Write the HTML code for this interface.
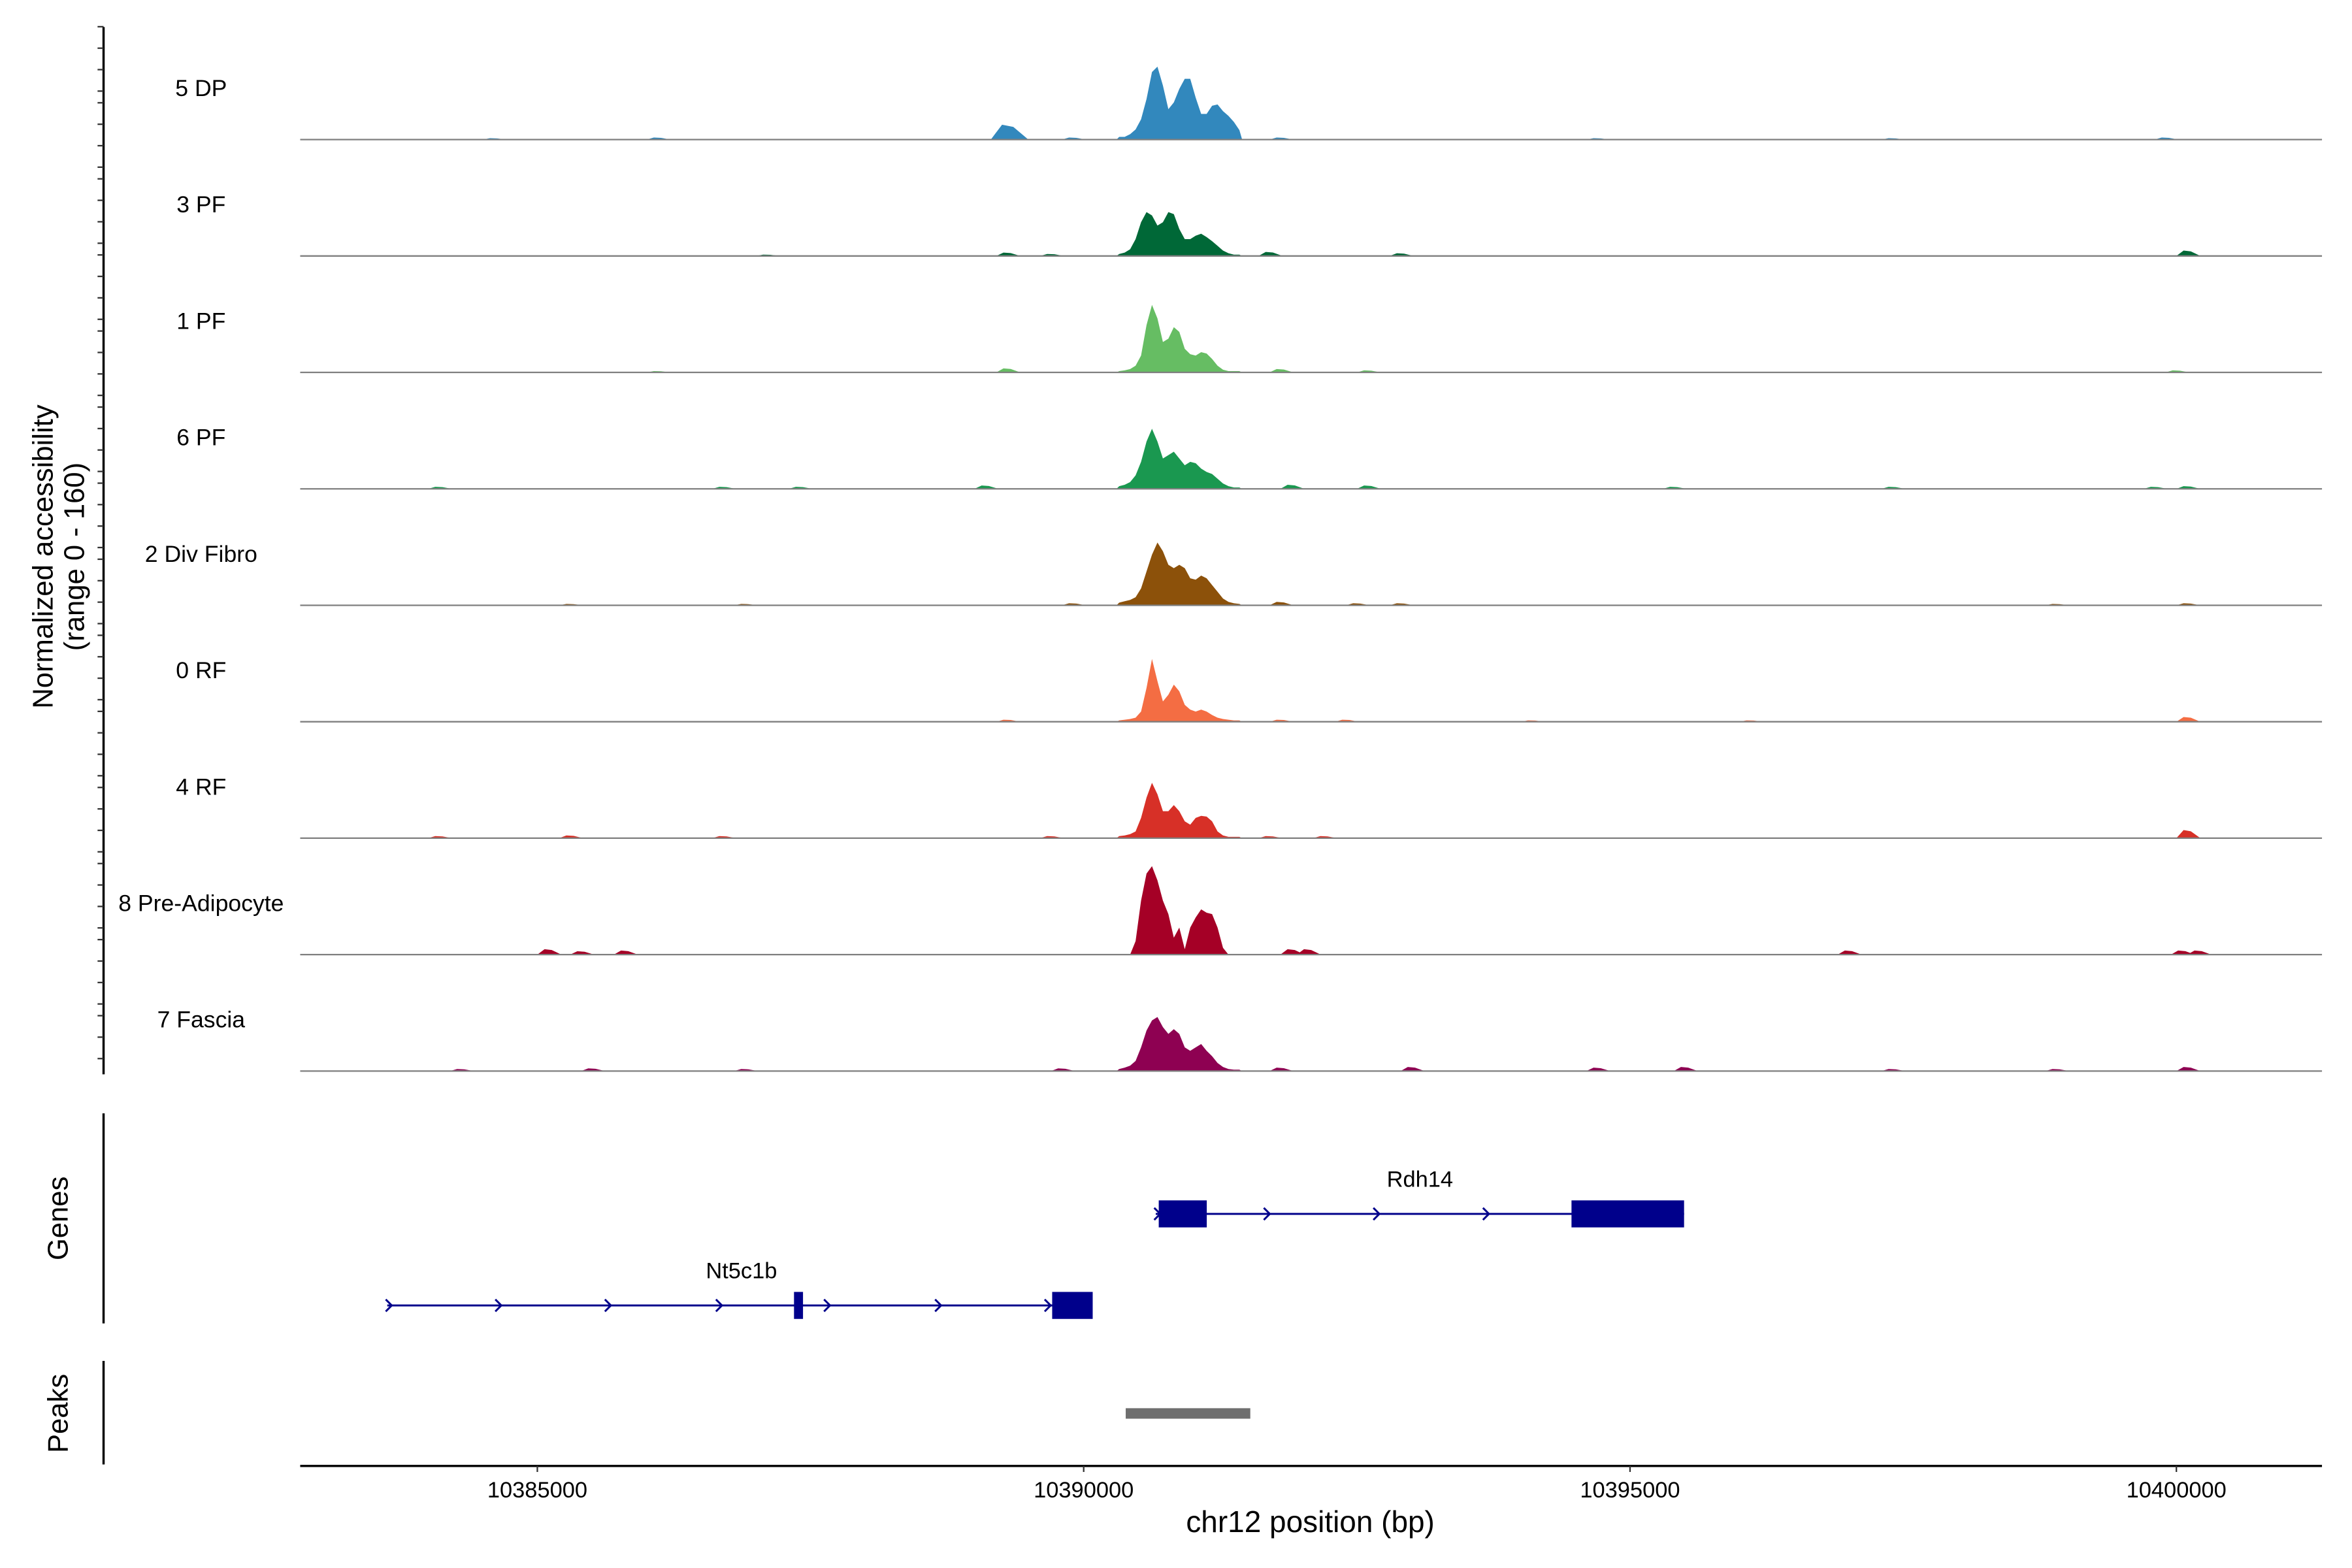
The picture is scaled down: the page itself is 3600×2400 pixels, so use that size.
<!DOCTYPE html>
<html><head><meta charset="utf-8"><style>
html,body{margin:0;padding:0;background:#fff}
svg{display:block}
text{font-family:"Liberation Sans",Arial,sans-serif;fill:#000}
</style></head><body>
<svg id="chart" width="3600" height="2400" viewBox="0 0 1567 1045" preserveAspectRatio="none" xmlns="http://www.w3.org/2000/svg">
<g id="yaxis"></g>
<g id="tracks"></g>
<text transform="translate(35,371) rotate(-90)" text-anchor="middle" font-size="19">Normalized accessibility</text>
<text transform="translate(56,371) rotate(-90)" text-anchor="middle" font-size="19">(range 0 - 160)</text>
<g id="genes"></g>
<line x1="69" y1="742" x2="69" y2="882" stroke="#000" stroke-width="1.5"/>
<text transform="translate(45,812) rotate(-90)" text-anchor="middle" font-size="19">Genes</text>
<line x1="69" y1="907" x2="69" y2="976" stroke="#000" stroke-width="1.5"/>
<text transform="translate(45,942) rotate(-90)" text-anchor="middle" font-size="19">Peaks</text>
<g id="peaks"></g>
<line x1="200" y1="977" x2="1547" y2="977" stroke="#000" stroke-width="1.5"/>
<g id="xaxis"></g>
<text x="873" y="1021" text-anchor="middle" font-size="20">chr12 position (bp)</text>
</svg>
<script>
const trackNames = ["5 DP","3 PF","1 PF","6 PF","2 Div Fibro","0 RF","4 RF","8 Pre-Adipocyte","7 Fascia"];
const trackColors = ["#3288bd","#006837","#66bd63","#1a9850","#8c510a","#f46d43","#d73027","#a50026","#8e0152"];
const binStart = 10390300;
const binSize = 50;
const peakDP5 = [4,4,8,15,30,60,100,108,80,45,55,75,90,90,62,38,38,50,52,42,35,26,14];
const peakPF3 = [3,5,10,25,50,65,60,45,50,65,62,40,25,25,30,33,28,22,15,8,4,2,2];
const peakPF1 = [2,3,5,10,25,70,100,80,45,50,67,60,35,27,25,30,28,20,10,4,2,2,2];
const peakPF6 = [4,6,10,20,40,70,89,70,45,50,55,45,35,40,38,30,25,22,15,8,4,2,2];
const peakDiv2 = [4,6,8,12,25,50,75,93,80,60,55,60,55,40,38,44,40,30,20,10,5,3,2];
const peakRF0 = [2,3,4,6,15,50,93,60,30,40,55,45,25,18,15,18,15,10,6,4,3,2,2];
const peakRF4 = [3,4,6,10,30,60,82,65,40,40,49,40,25,20,30,33,32,25,10,4,2,2,2];
const peakPre8 = [0,0,0,20,80,120,131,110,80,60,25,40,8,40,55,67,62,60,40,10,0,0,0];
const peakFascia7 = [3,5,8,15,35,60,75,80,65,55,62,55,35,30,35,40,30,22,12,6,3,2,2];
const peakValues = [peakDP5,peakPF3,peakPF1,peakPF6,peakDiv2,peakRF0,peakRF4,peakPre8,peakFascia7];
// background bumps: start positions (bp) and heights (units)
const bgPosDP5 = [10389150,10389800,10386000,10384500,10391700,10394600,10397300,10399800];
const bgValDP5 = [22,3,3,2,3,2,2,3];
const bgPosPF3 = [10389200,10389600,10391600,10392800,10400000,10387000];
const bgValPF3 = [5,3,6,4,8,2];
const bgPosPF1 = [10389200,10391700,10392500,10399900,10386000];
const bgValPF1 = [6,5,3,3,2];
const bgPosPF6 = [10384000,10386600,10387300,10389000,10391800,10392500,10395300,10397300,10399700,10400000];
const bgValPF6 = [3,3,3,5,6,5,3,3,3,4];
const bgPosDiv2 = [10385200,10386800,10389800,10391700,10392400,10392800,10398800,10400000];
const bgValDiv2 = [2,2,3,5,3,3,2,3];
const bgPosRF0 = [10389200,10391700,10392300,10400000,10394000,10396000];
const bgValRF0 = [3,3,3,7,2,2];
const bgPosRF4 = [10384000,10385200,10386600,10389600,10391600,10392100,10400000];
const bgValRF4 = [3,4,3,3,3,3,12];
const bgPosPre8 = [10385000,10385300,10385700,10391800,10391950,10396900,10399950,10400100];
const bgValPre8 = [8,5,6,8,8,6,6,6];
const bgPosFascia7 = [10384200,10385400,10386800,10389700,10391700,10392900,10394600,10395400,10397300,10398800,10400000];
const bgValFascia7 = [3,4,3,4,5,6,5,6,3,3,6];
const bgPos = [bgPosDP5,bgPosPF3,bgPosPF1,bgPosPF6,bgPosDiv2,bgPosRF0,bgPosRF4,bgPosPre8,bgPosFascia7];
const bgVal = [bgValDP5,bgValPF3,bgValPF1,bgValPF6,bgValDiv2,bgValRF0,bgValRF4,bgValPre8,bgValFascia7];
const xTicks = [10385000,10390000,10395000,10400000];
const NS="http://www.w3.org/2000/svg";
function X(bp){return 722+(bp-10390000)*0.0728;}
function H(v){return v*0.45;}
function mk(tag,attrs,parent){const e=document.createElementNS(NS,tag);for(const k in attrs)e.setAttribute(k,attrs[k]);parent.appendChild(e);return e;}
const tracks=document.getElementById('tracks');
for(let i=0;i<trackNames.length;i++){
  const base=93+i*77.6;
  const g=mk('g',{},tracks);
  
  
  let d='M'+X(binStart)+','+base;
  peakValues[i].forEach((v,k)=>{const xm=X(binStart+(k+0.5)*binSize);d+=' L'+xm+','+(base-H(v));});
  d+=' L'+X(binStart+peakValues[i].length*binSize)+','+base+' Z';
  const p=mk('path',{d:d,fill:trackColors[i]},g);
  
  
  bgPos[i].forEach((pos,k)=>{
    const v=bgVal[i][k];
    const w=v>15?25:(0.0728*220);
    const x0=X(pos);
    const r=mk('path',{d:'M'+x0+','+base+' L'+(x0+w*0.3)+','+(base-H(v))+' L'+(x0+w*0.6)+','+(base-H(v)*0.85)+' L'+(x0+w)+','+base+' Z',fill:trackColors[i]},g);
    
    
  });
  const bl=mk('line',{x1:200,x2:1547,y1:base,y2:base,stroke:'#7f7f7f','stroke-width':1},g);
  
  
  const t=mk('text',{x:134,y:base-29,'text-anchor':'middle','font-size':15.5},g);
  t.textContent=trackNames[i];
  
  
}
const ya=document.getElementById('yaxis');
mk('line',{x1:69,x2:69,y1:18,y2:716,stroke:'#000','stroke-width':1.5},ya);
for(let s=17.8;s<716;s+=50.7){for(let j=0;j<4;j++){const y=s+j*14.3;if(y<716)mk('line',{x1:65,x2:69,y1:y,y2:y,stroke:'#333','stroke-width':1},ya);}}
const genes=document.getElementById('genes');
const navy='#00008b';
function gene(name,x0,x1,y,exons,arrows,lx){
  const g=mk('g',{},genes);
  
  
  mk('line',{x1:x0,x2:x1,y1:y,y2:y,stroke:navy,'stroke-width':1.3},g);
  exons.forEach(e=>mk('rect',{x:e[0],y:y-9,width:e[1]-e[0],height:18,fill:navy},g));
  arrows.forEach(a=>mk('path',{d:'M'+(a-3)+','+(y-4)+' L'+(a+1)+','+y+' L'+(a-3)+','+(y+4),fill:'none',stroke:navy,'stroke-width':1.3},g));
  const t=mk('text',{x:lx,y:y-18,'text-anchor':'middle','font-size':15},g);t.textContent=name;
}
gene('Rdh14',770,1122,809,[[772,804],[1047,1122]],[772,845,918,991],946);
gene('Nt5c1b',258,728,870,[[529,535],[701,728]],[260,333,406,480,552,626,699],494);
const pk=mk('rect',{x:750,y:938.5,width:83,height:7,fill:'#6e6e6e'},document.getElementById('peaks'));


const xa=document.getElementById('xaxis');
xTicks.forEach(v=>{
  mk('line',{x1:X(v),x2:X(v),y1:977,y2:981,stroke:'#333'},xa);
  const t=mk('text',{x:X(v),y:998,'text-anchor':'middle','font-size':15,fill:'#4d4d4d'},xa);
  t.textContent=v;
  
  
});
</script>
</body></html>
